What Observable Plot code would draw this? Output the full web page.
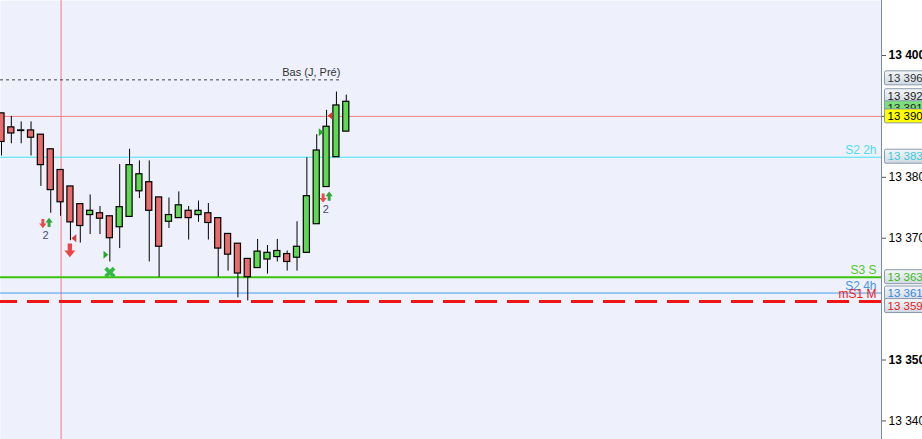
<!DOCTYPE html>
<html>
<head>
<meta charset="utf-8">
<script src="https://cdn.jsdelivr.net/npm/d3@7"></script>
<script src="https://cdn.jsdelivr.net/npm/@observablehq/plot@0.6"></script>
<style>
  html, body { margin: 0; padding: 0; background: #ffffff; overflow: hidden; }
  #chart { width: 922px; height: 439px; }
</style>
</head>
<body>
<div id="chart"></div>
<script>
// ---- candle data (index = bar number) ----
const opens  = [13390.5, 13388.2, 13387.7, 13387.7, 13387.0, 13384.6, 13381.2, 13378.5, 13375.6, 13373.8, 13374.1, 13373.6, 13371.8, 13373.5, 13377.7, 13379.2, 13376.7, 13372.7, 13373.3, 13374.5, 13373.8, 13374.1, 13373.3, 13370.7, 13369.1, 13366.6, 13365.1, 13366.5, 13366.9, 13367.4, 13366.8, 13367.6, 13372.3, 13378.4, 13383.3, 13387.5];
const highs  = [13390.5, 13390.0, 13389.1, 13389.1, 13387.0, 13384.6, 13381.2, 13378.5, 13375.6, 13377.1, 13375.2, 13373.6, 13382.1, 13384.6, 13382.7, 13382.7, 13376.7, 13376.6, 13377.6, 13375.2, 13376.1, 13375.7, 13373.3, 13370.7, 13369.1, 13366.6, 13369.8, 13368.8, 13369.8, 13367.9, 13372.7, 13383.2, 13387.0, 13391.0, 13394.0, 13393.5];
const lows   = [13383.5, 13385.5, 13385.5, 13383.5, 13378.5, 13374.1, 13373.6, 13369.6, 13369.2, 13370.6, 13370.6, 13366.1, 13368.3, 13373.5, 13376.5, 13366.1, 13363.6, 13371.6, 13373.3, 13369.7, 13372.6, 13369.7, 13363.6, 13364.6, 13360.2, 13359.7, 13365.1, 13364.1, 13366.1, 13364.6, 13364.6, 13367.6, 13372.3, 13378.4, 13383.3, 13387.5];
const closes = [13385.8, 13387.2, 13387.6, 13386.5, 13382.0, 13377.9, 13375.9, 13372.6, 13372.0, 13374.5, 13373.2, 13370.0, 13375.1, 13382.0, 13380.5, 13374.5, 13368.6, 13373.8, 13375.4, 13373.3, 13374.5, 13372.5, 13368.3, 13367.3, 13364.2, 13363.6, 13367.8, 13367.6, 13367.9, 13366.1, 13368.6, 13376.9, 13384.4, 13388.3, 13391.8, 13392.4];

// ---- horizontal levels ----
const levelNames  = ["S2 2h", "S3 S", "S2 4h", "mS1 M"];
const levelPrices = [13383.3, 13363.6, 13361.0, 13359.6];
const priceLine   = 13390;          // current price line
const basName     = "Bas (J, Pré)";
const basPrice    = 13396;
const basEndBar   = 34.6;
const cursorBar   = 6.05;

// ---- signals ----
const signalBar   = [4.2, 4.83, 7.35, 6.94, 10.6, 11.0, 32.65, 33.26, 32.45, 33.36];
const signalPrice = [13372.4, 13372.6, 13370.0, 13368.0, 13367.3, 13364.4, 13376.6, 13376.9, 13387.4, 13390.1];
const signalType  = ["downSmall", "upSmall", "triLeft", "downBig", "triRight", "cross", "downSmall", "upSmall", "triRight", "triLeft"];
const countBar    = [4.47, 32.93];
const countPrice  = [13370.4, 13374.7];
const countText   = ["2", "2"];

// ---- axis ticks ----
const boldTicks   = [13400, 13350];
const normalTicks = [13390, 13380, 13370, 13340];

// ---- price tags on the axis ----
const tagPrices = [13396, 13392, 13391, 13390, 13383.3, 13363.6, 13361.0, 13359.6];
const tagTexts  = ["13 396", "13 392", "13 391", "13 390", "13 383", "13 363", "13 361", "13 359"];

// build tables
const candles = opens.map((o, i) => ({i, open: o, high: highs[i], low: lows[i], close: closes[i], up: closes[i] >= o}));
const levels = levelNames.map((n, k) => ({name: n, price: levelPrices[k]}));
const signals = signalBar.map((b, k) => ({bar: b, price: signalPrice[k], type: signalType[k]}));
const counts = countBar.map((b, k) => ({bar: b, price: countPrice[k], text: countText[k]}));

const levelColor = {"S2 2h": "#45e3f2", "S3 S": "#38c40c", "S2 4h": "#4a9be8", "mS1 M": "#f01414"};
const levelText  = {"S2 2h": "#4fdcee", "S3 S": "#52c828", "S2 4h": "#4b95e6", "mS1 M": "#ee2020"};

// custom symbols
const rad = s => Math.sqrt(s / Math.PI);
const arrowDown = {draw(c, s) { const r = rad(s), w = r * 0.32, h = r * 0.8;
  c.moveTo(-w, -r); c.lineTo(w, -r); c.lineTo(w, 0); c.lineTo(h, 0); c.lineTo(0, r); c.lineTo(-h, 0); c.lineTo(-w, 0); c.closePath(); }};
const arrowUp = {draw(c, s) { const r = rad(s), w = r * 0.32, h = r * 0.8;
  c.moveTo(-w, r); c.lineTo(w, r); c.lineTo(w, 0); c.lineTo(h, 0); c.lineTo(0, -r); c.lineTo(-h, 0); c.lineTo(-w, 0); c.closePath(); }};
const triLeft = {draw(c, s) { const r = rad(s);
  c.moveTo(r * 0.6, -r); c.lineTo(r * 0.6, r); c.lineTo(-r * 0.6, 0); c.closePath(); }};
const triRight = {draw(c, s) { const r = rad(s);
  c.moveTo(-r * 0.6, -r); c.lineTo(-r * 0.6, r); c.lineTo(r * 0.6, 0); c.closePath(); }};
const crossX = {draw(c, s) { const r = rad(s), t = r * 0.32, L = r;
  const d = Math.SQRT1_2;
  const rect = (dx, dy, nx, ny) => { c.moveTo(L*dx + t*nx, L*dy + t*ny); c.lineTo(L*dx - t*nx, L*dy - t*ny); c.lineTo(-L*dx - t*nx, -L*dy - t*ny); c.lineTo(-L*dx + t*nx, -L*dy + t*ny); c.closePath(); };
  rect(d, d, -d, d); rect(d, -d, d, d); }};

const fmt = d => d3.format(",")(d).replace(",", " ");
const FONT = "Liberation Sans, Arial, sans-serif";

const xDomain = [-0.1, 89.33];

const chart = Plot.plot({
  width: 922, height: 439,
  marginLeft: 0, marginRight: 41, marginTop: 0, marginBottom: 0,
  x: {domain: xDomain, axis: null},
  y: {domain: [13336.95, 13409.03]},
  style: {fontFamily: FONT, fontSize: "12px", background: "#ffffff", overflow: "visible"},
  marks: [
    Plot.frame({fill: "#eef1fb"}),
    // cursor
    Plot.ruleX([cursorBar], {stroke: "#f27c7c", strokeWidth: 1}),
    // price line
    Plot.ruleY([priceLine], {stroke: "#f08080", strokeWidth: 1}),
    // levels
    Plot.ruleY(levels.filter(d => d.name !== "mS1 M"), {y: "price", stroke: d => levelColor[d.name], strokeWidth: d => d.name === "S3 S" ? 2 : 1}),
    Plot.ruleY(levels.filter(d => d.name === "mS1 M"), {y: "price", stroke: d => levelColor[d.name], strokeWidth: 3, strokeDasharray: "22,10", strokeDashoffset: 5}),
    Plot.text(levels, {y: "price", text: "name", frameAnchor: "right", textAnchor: "end", dx: -5, dy: -7, fill: d => levelText[d.name], fontSize: 12}),
    // Bas (J, Pré)
    Plot.ruleY([basPrice], {x1: xDomain[0], x2: basEndBar, stroke: "#444", strokeWidth: 1, strokeDasharray: "3,3"}),
    Plot.text([basName], {x: basEndBar, y: basPrice, text: d => d, textAnchor: "end", dx: -2, dy: -7, fill: "#333", fontSize: 11}),
    // candles
    Plot.ruleX(candles, {x: "i", y1: "low", y2: "high", stroke: "#000", strokeWidth: 1}),
    Plot.rect(candles, {x1: d => d.i - 0.31, x2: d => d.i + 0.31, y1: "open", y2: "close", fill: d => d.up ? "#60d854" : "#e86c6c", stroke: "#000", strokeWidth: 1.2}),
    // signals
    Plot.dot(signals.filter(d => d.type === "downSmall"), {x: "bar", y: "price", symbol: arrowDown, r: 4.6, fill: "#ea4a4a", stroke: "none"}),
    Plot.dot(signals.filter(d => d.type === "upSmall"), {x: "bar", y: "price", symbol: arrowUp, r: 4.6, fill: "#2ea83c", stroke: "none"}),
    Plot.dot(signals.filter(d => d.type === "downBig"), {x: "bar", y: "price", symbol: arrowDown, r: 6.8, fill: "#ea4646", stroke: "none"}),
    Plot.dot(signals.filter(d => d.type === "triLeft"), {x: "bar", y: "price", symbol: triLeft, r: 4, fill: "#d83a3a", stroke: "none"}),
    Plot.dot(signals.filter(d => d.type === "triRight"), {x: "bar", y: "price", symbol: triRight, r: 4, fill: "#25a82a", stroke: "none"}),
    Plot.dot(signals.filter(d => d.type === "cross"), {x: "bar", y: "price", symbol: crossX, r: 6, fill: "#36b844", stroke: "none"}),
    Plot.text(counts, {x: "bar", y: "price", text: "text", fill: "#4a4a6a", fontSize: 11}),
    // axis
    Plot.ruleX([xDomain[1]], {stroke: "#7d8c9c", strokeWidth: 1}),
    Plot.axisY(normalTicks, {anchor: "right", tickSize: 4, tickPadding: 3, tickFormat: fmt, fontSize: 12, label: null, stroke: "#555", fill: "#000"}),
    Plot.axisY(boldTicks, {anchor: "right", tickSize: 4, tickPadding: 3, tickFormat: fmt, fontSize: 12, fontWeight: "bold", label: null, stroke: "#555", fill: "#000"})
  ]
});

document.getElementById("chart").appendChild(chart);

// price tags positioned with the plot's y scale
const ys = chart.scale("y");
const svg = d3.select(chart);
const defs = svg.append("defs");
const grad = defs.append("linearGradient").attr("id", "tagGrad").attr("x1", 0).attr("y1", 0).attr("x2", 0).attr("y2", 1);
grad.append("stop").attr("offset", "0%").attr("stop-color", "#f4f7fa");
grad.append("stop").attr("offset", "100%").attr("stop-color", "#cfd9e3");
const tagNudge = [-1.5, -8, -2, 0, -0.5, 0, 0.5, 4.5];
const tagFill  = ["url(#tagGrad)", "url(#tagGrad)", "#7be07b", "#ffff00", "url(#tagGrad)", "url(#tagGrad)", "url(#tagGrad)", "url(#tagGrad)"];
const tagInk   = ["#333", "#222", "#222", "#000", "#3cc8dc", "#3fb81a", "#3a86d8", "#e81818"];
const g = svg.append("g").attr("font-family", FONT).attr("font-size", 11.5).attr("text-anchor", "start");
tagPrices.forEach((p, k) => {
  const cy = ys.apply(p) + tagNudge[k];
  const gg = g.append("g");
  gg.append("rect").attr("x", 884.5).attr("y", cy - 7).attr("width", 45).attr("height", 14)
    .attr("rx", 1.5).attr("fill", tagFill[k]).attr("stroke", "#8899ab");
  gg.append("text").attr("x", 887.5).attr("y", cy).attr("dy", "0.36em").attr("text-anchor", "start").attr("fill", tagInk[k]).text(tagTexts[k]);
});
</script>
</body>
</html>
